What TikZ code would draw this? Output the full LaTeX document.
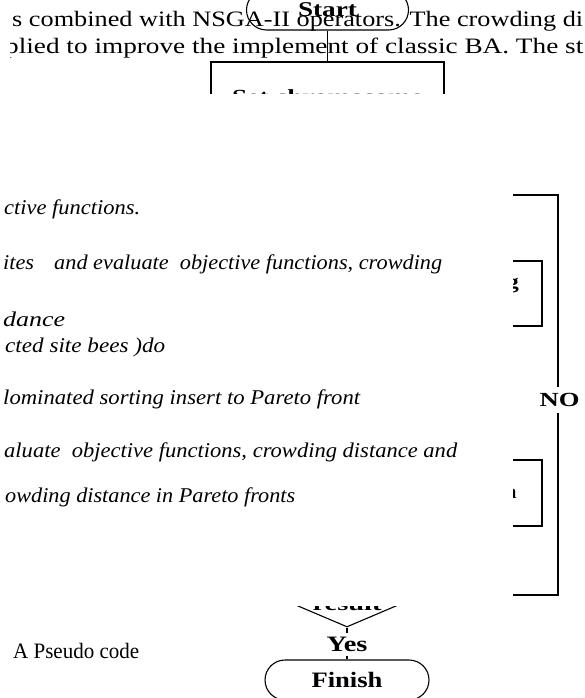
\documentclass[tikz,border=0pt]{standalone}
\usepackage{graphicx}
\usepackage{fontspec}
\setmainfont{Liberation Serif}
\usetikzlibrary{shapes.geometric}
\newcommand\fitw[2]{\resizebox{#1pt}{\height}{#2}}
\tikzset{
  body/.style={inner sep=0pt, anchor=base west, font=\fontsize{22}{26}\selectfont},
  pseudo/.style={inner sep=0pt, anchor=base west, font=\fontsize{21}{25}\selectfont\itshape, text=black},
  fc/.style={draw=black, line width=1.1pt},
  conn/.style={line width=1.1pt},
  stadium/.style={fc, rounded corners=20pt, minimum width=162pt, minimum height=40pt, inner sep=0pt, font=\fontsize{21}{24}\selectfont\bfseries},
  boxnode/.style={fc, inner sep=0pt, font=\fontsize{20}{24}\selectfont\bfseries},
  lbl/.style={inner sep=0pt, font=\fontsize{20}{24}\selectfont\bfseries},
}
\begin{document}
\begin{tikzpicture}[x=1pt,y=-1pt]
\useasboundingbox (0,0) rectangle (584,698);
\fill[white] (0,0) rectangle (584,698);
\begin{scope}
\clip (0,0) rectangle (584,698);
% page text
\begin{scope}
\clip (10,-10) rectangle (590,75);
\node[body] (t2) at (12,27) {\fitw{571}{s combined with NSGA-II operators. The crowding di}};
\node[body] (t3) at (5,54) {\fitw{578}{plied to improve the implement of classic BA. The st}};
\end{scope}
\node[body] (cap) at (13,658) {\fitw{126}{A Pseudo code}};
% flowchart
\node[stadium] (start) at (327.5,10) {\fitw{59}{Start}};
\node[boxnode, minimum width=233pt, minimum height=70pt] (setc) at (327.5,97) {\fitw{191}{Set chromosome}};
\draw[conn] (start) -- (setc);
\node[boxnode, minimum width=392pt, minimum height=65pt] (b1) at (346,293.5) {};
\node[lbl, anchor=base east] (gfrag) at (519,288) {\scalebox{1.2}[1]{g}};
\node[boxnode, minimum width=392pt, minimum height=66pt] (b2) at (346,493) {};
\node[lbl, anchor=base east] (nfrag) at (517,498) {\scalebox{1.2}[1]{n}};
\node[fc, diamond, minimum width=150pt, minimum height=64pt, inner sep=0pt] (dec) at (347,595) {};
\node[lbl, anchor=base] (res) at (347,610) {\fitw{69}{result}};
\coordinate (lc) at (558,195);
\coordinate (looptop) at (470,195);
\draw[conn] (dec.east) -| (lc) -- (looptop);
\node[lbl, fill=white, inner xsep=1pt, inner ysep=6pt] (no) at (559.5,400) {\fitw{40}{NO}};
\node[stadium, minimum width=164pt, font=\fontsize{22}{26}\selectfont\bfseries] (fin) at (347,680) {\fitw{71}{Finish}};
\draw[conn] (dec.south) -- (fin.north);
\node[lbl, fill=white, inner xsep=2pt, inner ysep=4pt, font=\fontsize{22}{26}\selectfont\bfseries] (yes) at (347,644.5) {\fitw{41}{Yes}};
% pasted pseudo code image
\fill[white] (0,94) rectangle (513,606);
\node[pseudo] (p1) at (4,214) {\fitw{136}{ctive functions.}};
\node[pseudo] (p2) at (3,269) {\fitw{439}{ites\hspace{0.9em}and evaluate\hspace{0.5em}objective functions, crowding}};
\node[pseudo] (p3) at (3,326) {\fitw{62}{dance}};
\node[pseudo] (p4) at (5,352) {\fitw{160}{cted site bees )do}};
\node[pseudo] (p5) at (3,404) {\fitw{357}{lominated sorting insert to Pareto front}};
\node[pseudo] (p6) at (4,457) {\fitw{453}{aluate\hspace{0.5em}objective functions, crowding distance and}};
\node[pseudo] (p7) at (5,502) {\fitw{290}{owding distance in Pareto fronts}};
\end{scope}
\end{tikzpicture}
\end{document}
